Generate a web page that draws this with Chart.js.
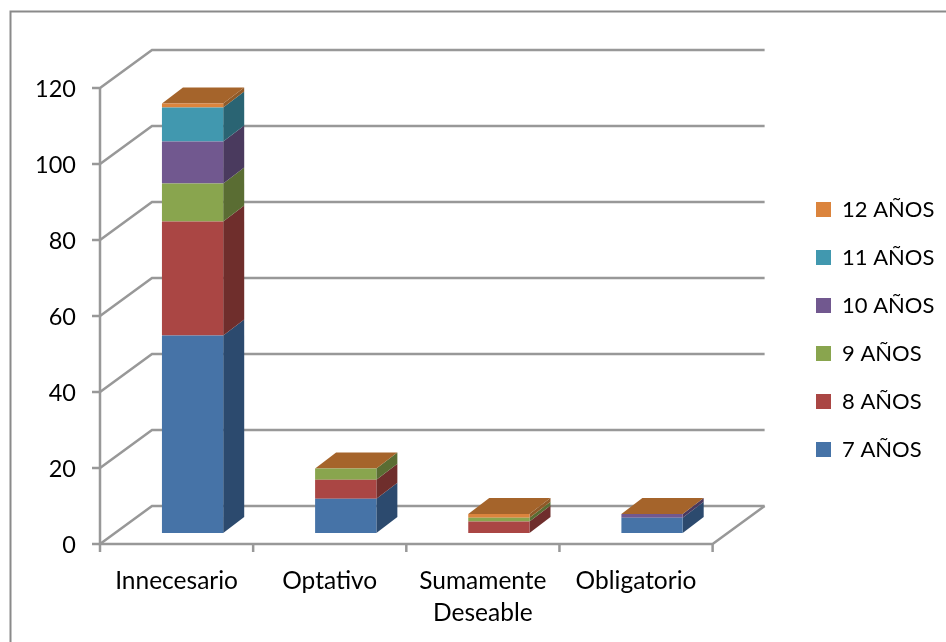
<!DOCTYPE html>
<html>
<head>
<meta charset="utf-8">
<title>Edades por categoría</title>
<script src="https://cdn.jsdelivr.net/npm/chart.js@4"></script>
<style>
    html, body { margin: 0; padding: 0; background: #fff; }
    canvas { display: block; }
</style>
</head>
<body>
<canvas id="edades" width="946" height="642"></canvas>
<script>
const categorias = [['Innecesario'], ['Optativo'], ['Sumamente', 'Deseable'], ['Obligatorio']];
const series = ['7 AÑOS', '8 AÑOS', '9 AÑOS', '10 AÑOS', '11 AÑOS', '12 AÑOS'];
const anios7 = [52, 9, 0, 4];
const anios8 = [30, 5, 3, 0];
const anios9 = [10, 3, 1, 0];
const anios10 = [11, 0, 0, 1];
const anios11 = [9, 0, 0, 0];
const anios12 = [1, 0, 1, 0];
const valores = [anios7, anios8, anios9, anios10, anios11, anios12];

const frente = ['#4673A7', '#AA4644', '#89A54E', '#71588F', '#4198AF', '#DB843D'];
const lateral = ['#2C4A6E', '#6F2E2C', '#5A6D33', '#4A3A5E', '#2A6473', '#905A28'];
const tapa = '#A5642B';
const gris = '#989898';

// desplazamientos de la caja 3D respecto al plano de las barras
const fondoEje = { dx: -16, dy: 11 };
const fondoPared = { dx: 36, dy: -27 };
const prof = { dx: 21, dy: -16 };

const caja3d = {
    id: 'caja3d',
    afterLayout(chart) {
        // la leyenda queda separada del area de barras
        const l = chart.legend;
        l.left = 790;
        l.right = chart.width;
        l.top -= 30;
        l.bottom -= 30;
    },
    beforeDraw(chart) {
        const c = chart.ctx;
        c.save();
        c.fillStyle = '#fff';
        c.fillRect(0, 0, chart.width, chart.height);
        c.strokeStyle = '#8a8a8a';
        c.lineWidth = 2;
        c.beginPath();
        c.moveTo(10.5, 642);
        c.lineTo(10.5, 11.5);
        c.lineTo(946, 11.5);
        c.stroke();
        c.restore();
    },
    beforeDatasetsDraw(chart) {
        const c = chart.ctx;
        const { x, y } = chart.scales;
        const x0 = x.left + fondoEje.dx;
        const x1 = x.right + fondoEje.dx;
        const xb = x.left + fondoPared.dx;
        const xe = x.right + fondoPared.dx;
        c.save();
        c.strokeStyle = gris;
        c.lineWidth = 2.5;
        // paredes: lineas del fondo y diagonales de cada marca
        y.ticks.forEach(t => {
            const py = y.getPixelForValue(t.value);
            c.beginPath();
            c.moveTo(x0 - 8, py + fondoEje.dy);
            c.lineTo(x0, py + fondoEje.dy);
            c.lineTo(xb, py + fondoPared.dy);
            c.lineTo(xe, py + fondoPared.dy);
            c.stroke();
        });
        const yBase = y.getPixelForValue(0);
        // suelo y ejes frontales
        c.beginPath();
        c.moveTo(x0, y.getPixelForValue(120) + fondoEje.dy);
        c.lineTo(x0, yBase + fondoEje.dy);
        c.lineTo(x1, yBase + fondoEje.dy);
        c.lineTo(xe, yBase + fondoPared.dy);
        c.stroke();
        for (let i = 0; i <= categorias.length; i++) {
            const px = x0 + (x1 - x0) * i / categorias.length;
            c.beginPath();
            c.moveTo(px, yBase + fondoEje.dy);
            c.lineTo(px, yBase + fondoEje.dy + 8);
            c.stroke();
        }
        // caras laterales y tapa de cada columna
        categorias.forEach((_, j) => {
            let tope = null;
            valores.forEach((serie, i) => {
                const barra = chart.getDatasetMeta(i).data[j];
                const der = barra.x + barra.width / 2;
                tope = { izq: barra.x - barra.width / 2, der, y: barra.y };
                if (!serie[j]) return;
                c.fillStyle = lateral[i];
                c.beginPath();
                c.moveTo(der, barra.y);
                c.lineTo(der + prof.dx, barra.y + prof.dy);
                c.lineTo(der + prof.dx, barra.base + prof.dy);
                c.lineTo(der, barra.base);
                c.closePath();
                c.fill();
            });
            c.fillStyle = tapa;
            c.beginPath();
            c.moveTo(tope.izq, tope.y);
            c.lineTo(tope.izq + prof.dx, tope.y + prof.dy);
            c.lineTo(tope.der + prof.dx, tope.y + prof.dy);
            c.lineTo(tope.der, tope.y);
            c.closePath();
            c.fill();
        });
        c.restore();
    }
};

new Chart(document.getElementById('edades'), {
    type: 'bar',
    data: {
        labels: categorias,
        datasets: series.map((s, i) => ({
            label: s,
            data: valores[i],
            backgroundColor: frente[i],
            borderWidth: 0,
            categoryPercentage: 1,
            barPercentage: 0.4
        }))
    },
    plugins: [caja3d],
    options: {
        responsive: false,
        animation: false,
        layout: { padding: { top: 77, right: 63 } },
        plugins: {
            legend: {
                position: 'right',
                reverse: true,
                labels: {
                    boxWidth: 15,
                    boxHeight: 15,
                    padding: 26,
                    color: '#000',
                    font: { family: 'Lato', size: 22 }
                }
            },
            tooltip: { enabled: false }
        },
        scales: {
            x: {
                stacked: true,
                grid: { display: false, drawTicks: false },
                border: { display: false },
                afterFit: s => { s.height = 642 - 533; },
                ticks: {
                    color: '#000',
                    padding: 32,
                    labelOffset: fondoEje.dx,
                    maxRotation: 0,
                    autoSkip: false,
                    font: { family: 'Lato', size: 24.5, lineHeight: 1.3 }
                }
            },
            y: {
                stacked: true,
                min: 0,
                max: 120,
                grid: { display: false, drawTicks: false },
                border: { display: false },
                afterFit: s => { s.width = 116; },
                ticks: {
                    color: '#000',
                    stepSize: 20,
                    padding: 40,
                    labelOffset: fondoEje.dy + 1,
                    font: { family: 'Lato', size: 23.5 }
                }
            }
        }
    }
});
</script>
</body>
</html>
